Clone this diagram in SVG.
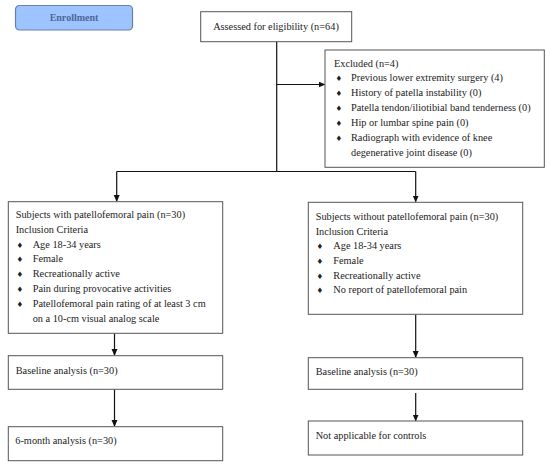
<svg xmlns="http://www.w3.org/2000/svg" width="550" height="468" viewBox="0 0 550 468">
<style>
.box{fill:#fff;stroke:#555;stroke-width:1}
.t{font-family:"Liberation Serif","DejaVu Serif",serif;font-size:10.3px;fill:#222}
.b{font-family:"DejaVu Sans",sans-serif;font-size:7.5px;fill:#222}
.ln{stroke:#111;stroke-width:1.2;fill:none}
</style>
<defs>
<marker id="ah" markerWidth="7" markerHeight="7" refX="6" refY="3.5" orient="auto" markerUnits="userSpaceOnUse">
<path d="M0,0.5 L7,3.5 L0,6.5 Z" fill="#111"/>
</marker>
</defs>
<rect width="550" height="468" fill="#fff"/>
<g id="enrollment">
<rect x="15.5" y="5.5" width="117" height="24.5" rx="4" fill="#9ec4ff" stroke="#6a7fa8" stroke-width="1.2"/>
<text x="74" y="21" text-anchor="middle" style="font-family:'Liberation Serif',serif;font-size:10px;font-weight:bold;fill:#4d679c">Enrollment</text>
</g>
<g id="connectors">
<path class="ln" d="M276.7,41.7 V171.5"/>
<path class="ln" d="M276.7,84.5 H324.5" marker-end="url(#ah)"/>
<path class="ln" d="M116.7,171.5 H415.7"/>
<path class="ln" d="M116.7,171.5 V201" marker-end="url(#ah)"/>
<path class="ln" d="M415.7,171.5 V201.5" marker-end="url(#ah)"/>
<path class="ln" d="M114.5,333.5 V355" marker-end="url(#ah)"/>
<path class="ln" d="M114.5,389.5 V426" marker-end="url(#ah)"/>
<path class="ln" d="M415.7,314.5 V357" marker-end="url(#ah)"/>
<path class="ln" d="M415.7,393 V420.5" marker-end="url(#ah)"/>
</g>
<g id="assessed">
<rect class="box" x="200.7" y="11.7" width="151" height="30"/>
<text class="t" x="276" y="30" text-anchor="middle">Assessed for eligibility (n=64)</text>
</g>
<g id="excluded">
<rect class="box" x="325" y="50" width="219.3" height="117.3"/>
<text class="t" x="334" y="67">Excluded (n=4)</text>
<text class="b" x="335.5" y="81">♦</text><text class="t" x="351" y="81">Previous lower extremity surgery (4)</text>
<text class="b" x="335.5" y="96">♦</text><text class="t" x="351" y="96">History of patella instability (0)</text>
<text class="b" x="335.5" y="111">♦</text><text class="t" x="351" y="111">Patella tendon/iliotibial band tenderness (0)</text>
<text class="b" x="335.5" y="126">♦</text><text class="t" x="351" y="126">Hip or lumbar spine pain (0)</text>
<text class="b" x="335.5" y="140.5">♦</text><text class="t" x="351" y="140.5">Radiograph with evidence of knee</text>
<text class="t" x="351" y="155.5">degenerative joint disease (0)</text>
</g>
<g id="with-pfp">
<rect class="box" x="8.3" y="201.7" width="214.4" height="131.6"/>
<text class="t" x="15.7" y="218">Subjects with patellofemoral pain (n=30)</text>
<text class="t" x="15.7" y="233.3">Inclusion Criteria</text>
<text class="b" x="16.5" y="247.5">♦</text><text class="t" x="32.7" y="247.5">Age 18-34 years</text>
<text class="b" x="16.5" y="262.3">♦</text><text class="t" x="32.7" y="262.3">Female</text>
<text class="b" x="16.5" y="277.2">♦</text><text class="t" x="32.7" y="277.2">Recreationally active</text>
<text class="b" x="16.5" y="292">♦</text><text class="t" x="32.7" y="292">Pain during provocative activities</text>
<text class="b" x="16.5" y="306.8">♦</text><text class="t" x="32.7" y="306.8">Patellofemoral pain rating of at least 3 cm</text>
<text class="t" x="32.7" y="321.5">on a 10-cm visual analog scale</text>
</g>
<g id="without-pfp">
<rect class="box" x="308.3" y="202.3" width="214.4" height="112"/>
<text class="t" x="315.7" y="220">Subjects without patellofemoral pain (n=30)</text>
<text class="t" x="315.7" y="234.7">Inclusion Criteria</text>
<text class="b" x="316.5" y="249.3">♦</text><text class="t" x="333.3" y="249.3">Age 18-34 years</text>
<text class="b" x="316.5" y="264">♦</text><text class="t" x="333.3" y="264">Female</text>
<text class="b" x="316.5" y="278.7">♦</text><text class="t" x="333.3" y="278.7">Recreationally active</text>
<text class="b" x="316.5" y="293.3">♦</text><text class="t" x="333.3" y="293.3">No report of patellofemoral pain</text>
</g>
<g id="baseline-left">
<rect class="box" x="8.3" y="355.7" width="214.4" height="33.6"/>
<text class="t" x="15.7" y="373.5">Baseline analysis (n=30)</text>
</g>
<g id="sixmonth-left">
<rect class="box" x="8.3" y="426.7" width="214.4" height="34"/>
<text class="t" x="15.3" y="443.5">6-month analysis (n=30)</text>
</g>
<g id="baseline-right">
<rect class="box" x="308.3" y="357.7" width="214.4" height="31.6"/>
<text class="t" x="315.7" y="375">Baseline analysis (n=30)</text>
</g>
<g id="na-right">
<rect class="box" x="308.3" y="421" width="214.4" height="34"/>
<text class="t" x="315.7" y="438.5">Not applicable for controls</text>
</g>
</svg>
